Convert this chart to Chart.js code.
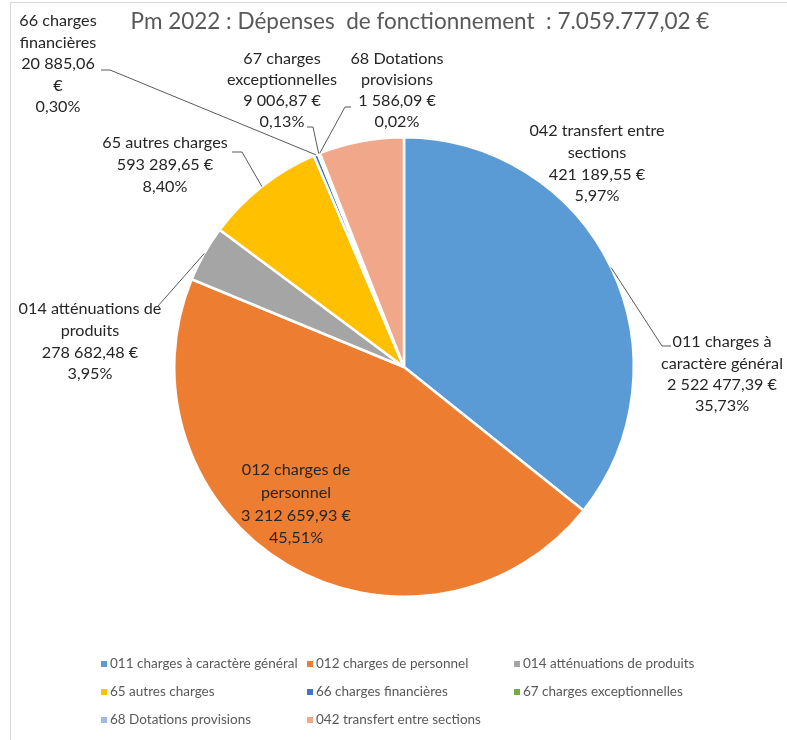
<!DOCTYPE html>
<html>
<head>
<meta charset="utf-8">
<script src="https://cdn.jsdelivr.net/npm/chart.js@4.4.1/dist/chart.umd.min.js"></script>
<style>
html,body{margin:0;padding:0;overflow:hidden;background:#fff;width:787px;height:740px;}
#frame{position:absolute;left:10px;top:2px;width:900px;height:900px;border:1px solid #d9d9d9;box-sizing:border-box;}
#wrap{position:absolute;left:0;top:0;width:787px;height:740px;}
</style>
</head>
<body>
<div id="frame"></div>
<div id="wrap"><canvas id="c" width="787" height="740"></canvas></div>
<script>
const title = "Pm 2022 : Dépenses  de fonctionnement  : 7.059.777,02 €";
const categories = [
  "011 charges à caractère général",
  "012 charges de personnel",
  "014 atténuations de produits",
  "65 autres charges",
  "66 charges financières",
  "67 charges exceptionnelles",
  "68 Dotations provisions",
  "042 transfert entre sections"
];
const amounts = [2522477.39, 3212659.93, 278682.48, 593289.65, 20885.06, 9006.87, 1586.09, 421189.55];
const amountLabels = ["2 522 477,39 €", "3 212 659,93 €", "278 682,48 €", "593 289,65 €", "20 885,06|€", "9 006,87 €", "1 586,09 €", "421 189,55 €"];
const percentLabels = ["35,73%", "45,51%", "3,95%", "8,40%", "0,30%", "0,13%", "0,02%", "5,97%"];
const nameLines = [
  ["011 charges à", "caractère général"],
  ["012 charges de", "personnel"],
  ["014 atténuations de", "produits"],
  ["65 autres charges"],
  ["66 charges", "financières"],
  ["67 charges", "exceptionnelles"],
  ["68 Dotations", "provisions"],
  ["042 transfert entre", "sections"]
];
const colors = ["#5B9BD5", "#ED7D31", "#A5A5A5", "#FFC000", "#4472C4", "#70AD47", "#9EBAE2", "#F1A88A"];

// label placement relative to pie centre (px): [dx of text centre, dy of first line, line height]
const labelPos = [
  [318, -25, 21.3],
  [-108, 103, 22.7],
  [-314, -58, 21.7],
  [-239, -224, 22],
  [-346, -346, 21.5],
  [-122, -308, 21],
  [-7, -308, 21],
  [193, -236, 21.7]
];
// leader elbows relative to pie centre; first point is the slice's outer mid-point
const leaders = [
  [[258, -21], [267, -21]],
  null,
  [[-246, -61]],
  [[-162, -215], [-172, -215]],
  [[-294, -297], [-303, -297]],
  [[-91, -240], [-97, -240]],
  [[-59, -260], [-53, -260]],
  null
];

const labelPlugin = {
  id: 'labels',
  afterDraw(chart) {
    const ctx = chart.ctx;
    const arcs = chart.getDatasetMeta(0).data;
    // title
    ctx.save();
    ctx.fillStyle = '#595959';
    ctx.font = '22.5px Lato';
    ctx.textAlign = 'center';
    ctx.textBaseline = 'middle';
    ctx.fillText(title, 420, 22);
    ctx.restore();

    arcs.forEach((arc, i) => {
      const cx = arc.x, cy = arc.y;
      const mid = (arc.startAngle + arc.endAngle) / 2;
      const r = arc.outerRadius;
      ctx.save();
      if (leaders[i]) {
        ctx.strokeStyle = '#595959';
        ctx.lineWidth = 1;
        ctx.beginPath();
        ctx.moveTo(cx + Math.cos(mid) * r, cy + Math.sin(mid) * r);
        leaders[i].forEach(p => ctx.lineTo(cx + p[0], cy + p[1]));
        ctx.stroke();
      }
      const lines = nameLines[i].concat(amountLabels[i].split('|'), [percentLabels[i]]);
      const [dx, dy, lh] = labelPos[i];
      ctx.fillStyle = '#262626';
      ctx.font = '16.2px Lato';
      ctx.textAlign = 'center';
      ctx.textBaseline = 'middle';
      lines.forEach((t, k) => {
        ctx.fillText(t, cx + dx, cy + dy + k * lh);
      });
      ctx.restore();
    });

    // legend in three columns
    ctx.save();
    ctx.font = '13.5px Lato';
    ctx.textBaseline = 'middle';
    ctx.textAlign = 'left';
    const colX = [104, 310, 517];
    const rowY = [664, 692, 720];
    chart.data.labels.forEach((lab, i) => {
      const x = colX[i % 3], y = rowY[Math.floor(i / 3)];
      ctx.fillStyle = chart.data.datasets[0].backgroundColor[i];
      ctx.fillRect(x - 3, y - 3, 6, 6);
      ctx.fillStyle = '#595959';
      ctx.fillText(lab, x + 6, y);
    });
    ctx.restore();
  }
};

new Chart(document.getElementById('c'), {
  type: 'pie',
  data: {
    labels: categories,
    datasets: [{
      data: amounts,
      backgroundColor: colors,
      borderColor: '#ffffff',
      borderWidth: 2.5,
      hoverOffset: 0,
      offset: 0
    }]
  },
  options: {
    responsive: false,
    animation: false,
    events: [],
    layout: { padding: { left: 173, right: 152, top: 136, bottom: 142 } },
    plugins: {
      legend: { display: false },
      title: { display: false },
      tooltip: { enabled: false }
    }
  },
  plugins: [labelPlugin]
});
</script>
</body>
</html>
